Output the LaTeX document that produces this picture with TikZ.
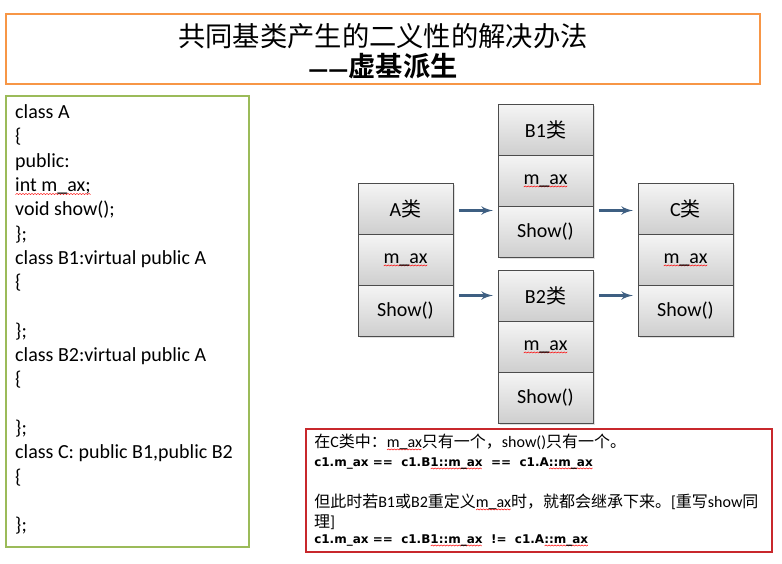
\documentclass[tikz,border=0pt]{standalone}
\usepackage{fontspec}
\setmainfont{Carlito}
\newfontfamily\cjk[BoldFont={Noto Sans CJK SC Bold}]{Noto Sans CJK SC}
\newfontfamily\codebf{DejaVu Sans}
\usetikzlibrary{arrows,positioning,shadows}
\definecolor{titleorange}{HTML}{F79646}
\definecolor{codegreen}{HTML}{9BBB59}
\definecolor{notered}{HTML}{C8282C}
\definecolor{arrowblue}{HTML}{3E5F82}
% red wavy spell-check underline
\newlength\spellw
\newdimen\spellx \newdimen\spelly
\newcount\spellk \newcount\spelln
\newcommand{\spell}[1]{%
  \settowidth{\spellw}{#1}%
  \spelln=\spellw \divide\spelln by 98304
  \rlap{\smash{\begin{pgfpicture}\pgfsetbaseline{0pt}%
    \pgfsetstrokecolor{red}\pgfsetlinewidth{.5pt}\pgfsetdash{}{0pt}%
    \pgfpathmoveto{\pgfpoint{0pt}{-3pt}}%
    \spellk=0
    \loop \advance\spellk by 1
      \spellx=1.5pt \multiply\spellx by \spellk
      \ifodd\spellk \spelly=-1.9pt \else \spelly=-3pt \fi
      \pgfpathlineto{\pgfpoint{\spellx}{\spelly}}%
    \ifnum\spellk<\spelln \repeat
    \pgfusepath{stroke}\end{pgfpicture}}}#1}
\newcommand{\lei}{{\cjk 类}}

\begin{document}
\begin{tikzpicture}[x=1pt,y=-1pt,
    cell/.style={draw=black!70,line width=.8pt,top color=gray!8,bottom color=gray!38,
      minimum width=95pt,minimum height=51pt,inner sep=0pt,outer sep=0pt,
      drop shadow={shadow xshift=2pt,shadow yshift=-2pt,opacity=.25},
      font=\fontsize{20}{22}\selectfont},
    arr/.style={-latex',line width=3pt,draw=arrowblue,shorten <=6pt,shorten >=5pt},
    note/.style={anchor=base west,inner sep=0pt}]
    \useasboundingbox[fill=white] (0,0) rectangle (782,563);
    % title
    \draw [titleorange,line width=2pt] (6,14) rectangle (760,84);
    \node (title1) at (383,36) {\cjk\fontsize{27.3}{28}\selectfont 共同基类产生的二义性的解决办法};
    \node (title2) at (383,66) {\fontsize{27.3}{28}\selectfont{\codebf\bfseries\fontsize{20}{20}\selectfont ——}{\cjk\bfseries 虚基派生}};
    % source code
    \draw [codegreen,line width=2pt] (6,96) rectangle (249,547);
    \node [anchor=north west,align=left,inner sep=0pt,font=\fontsize{20}{24.3}\selectfont] (code) at (15,104.5)
      {class A\\ \{\\ public:\\ \spell{int m\_ax;}\\ void show();\\ \};\\
       class B1:virtual public A\\ \{\\ ~\\ \};\\
       class B2:virtual public A\\ \{\\ ~\\ \};\\
       class C: public B1,public B2\\ \{\\ ~\\ \};};
    % classes
    \node [cell,anchor=north west] (At) at (358,183) {A\lei};
    \node [cell,below=0pt of At] (Am) {\spell{m\_ax}};
    \node [cell,below=0pt of Am] (As) {Show()};
    \node [cell,anchor=north west] (B1t) at (498,104) {B1\lei};
    \node [cell,below=0pt of B1t] (B1m) {\spell{m\_ax}};
    \node [cell,below=0pt of B1m] (B1s) {Show()};
    \node [cell,anchor=north west] (B2t) at (498,270) {B2\lei};
    \node [cell,below=0pt of B2t] (B2m) {\spell{m\_ax}};
    \node [cell,below=0pt of B2m] (B2s) {Show()};
    \node [cell,anchor=north west] (Ct) at (638,183) {C\lei};
    \node [cell,below=0pt of Ct] (Cm) {\spell{m\_ax}};
    \node [cell,below=0pt of Cm] (Cs) {Show()};
    % inheritance
    \draw [arr] ([yshift=-2pt]At.east) -- ([yshift=-2pt]At.east -| B1s.west);
    \draw [arr] (As.east |- B2t.west) -- (B2t.west);
    \draw [arr] ([yshift=-2pt]B1s.east |- Ct.east) -- ([yshift=-2pt]Ct.west);
    \draw [arr] (B2t.east) -- (B2t.east -| Cs.west);
    % note
    \draw [notered,line width=2pt] (306,429) rectangle (772,552);
    \node [note] (note1) at (314,447) {\fontsize{16}{16}\selectfont{\cjk 在}C{\cjk 类中：}\spell{m\_ax}{\cjk 只有一个，}show(){\cjk 只有一个。}};
    \node [note] (note2) at (314,466) {\codebf\bfseries\fontsize{12}{12}\selectfont c1.m\_ax ==\ \ c1.B\spell{1::m\_ax}\ \ ==\ \ c1.A\spell{::m\_ax}};
    \node [note] (note3) at (314,507) {\fontsize{16}{16}\selectfont{\cjk 但此时若}B1{\cjk 或}B2{\cjk 重定义}\spell{m\_ax}{\cjk 时，就都会继承下来。}[{\cjk 重写}show{\cjk 同}};
    \node [note] (note4) at (314,527) {\fontsize{16}{16}\selectfont{\cjk 理}]};
    \node [note] (note5) at (314,543) {\codebf\bfseries\fontsize{12}{12}\selectfont c1.m\_ax ==\ \ c1.B\spell{1::m\_ax}\ \ !=\ \ c1.A\spell{::m\_ax}};
\end{tikzpicture}
\end{document}
